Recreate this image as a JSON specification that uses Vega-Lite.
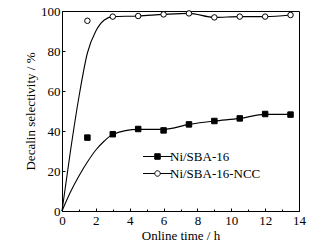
{
  "$schema": "https://vega.github.io/schema/vega-lite/v6.json",
  "width": 237,
  "height": 200,
  "autosize": "none",
  "padding": {"left": 62, "top": 11, "right": 29, "bottom": 38},
  "background": "white",
  "config": {
    "view": {"stroke": "black", "strokeWidth": 1},
    "font": "Liberation Serif",
    "axis": {
      "labelFont": "Liberation Serif",
      "titleFont": "Liberation Serif",
      "labelFontSize": 13,
      "titleFontSize": 13,
      "titleFontWeight": "normal",
      "labelColor": "black",
      "titleColor": "black",
      "domainColor": "black",
      "tickColor": "black",
      "grid": false
    },
    "legend": {
      "labelFont": "Liberation Serif",
      "labelFontSize": 13,
      "labelFontWeight": "normal",
      "labelColor": "black"
    }
  },
  "data": {
    "values": [
      {"series": "Ni/SBA-16", "kind": "point", "t": 1.5, "v": 36.7},
      {"series": "Ni/SBA-16", "kind": "point", "t": 3, "v": 38.4},
      {"series": "Ni/SBA-16", "kind": "point", "t": 4.5, "v": 41},
      {"series": "Ni/SBA-16", "kind": "point", "t": 6, "v": 40.3},
      {"series": "Ni/SBA-16", "kind": "point", "t": 7.5, "v": 43.3},
      {"series": "Ni/SBA-16", "kind": "point", "t": 9, "v": 45},
      {"series": "Ni/SBA-16", "kind": "point", "t": 10.5, "v": 46.3},
      {"series": "Ni/SBA-16", "kind": "point", "t": 12, "v": 48.5},
      {"series": "Ni/SBA-16", "kind": "point", "t": 13.5, "v": 48.2},
      {"series": "Ni/SBA-16-NCC", "kind": "point", "t": 1.5, "v": 95.1},
      {"series": "Ni/SBA-16-NCC", "kind": "point", "t": 3, "v": 97.2},
      {"series": "Ni/SBA-16-NCC", "kind": "point", "t": 4.5, "v": 97.5},
      {"series": "Ni/SBA-16-NCC", "kind": "point", "t": 6, "v": 98.3},
      {"series": "Ni/SBA-16-NCC", "kind": "point", "t": 7.5, "v": 98.8},
      {"series": "Ni/SBA-16-NCC", "kind": "point", "t": 9, "v": 96.8},
      {"series": "Ni/SBA-16-NCC", "kind": "point", "t": 10.5, "v": 97.2},
      {"series": "Ni/SBA-16-NCC", "kind": "point", "t": 12, "v": 97.2},
      {"series": "Ni/SBA-16-NCC", "kind": "point", "t": 13.5, "v": 98},
      {"series": "Ni/SBA-16", "kind": "curve", "t": 0, "v": 0},
      {"series": "Ni/SBA-16", "kind": "curve", "t": 0.5, "v": 9.5},
      {"series": "Ni/SBA-16", "kind": "curve", "t": 1, "v": 17.5},
      {"series": "Ni/SBA-16", "kind": "curve", "t": 1.5, "v": 24.5},
      {"series": "Ni/SBA-16", "kind": "curve", "t": 2, "v": 30.5},
      {"series": "Ni/SBA-16", "kind": "curve", "t": 2.5, "v": 35},
      {"series": "Ni/SBA-16", "kind": "curve", "t": 3, "v": 38.3},
      {"series": "Ni/SBA-16", "kind": "curve", "t": 4.5, "v": 40.8},
      {"series": "Ni/SBA-16", "kind": "curve", "t": 6, "v": 40.8},
      {"series": "Ni/SBA-16", "kind": "curve", "t": 7.5, "v": 43.3},
      {"series": "Ni/SBA-16", "kind": "curve", "t": 9, "v": 45},
      {"series": "Ni/SBA-16", "kind": "curve", "t": 10.5, "v": 46.3},
      {"series": "Ni/SBA-16", "kind": "curve", "t": 12, "v": 48.3},
      {"series": "Ni/SBA-16", "kind": "curve", "t": 13.5, "v": 48.3},
      {"series": "Ni/SBA-16-NCC", "kind": "curve", "t": 0, "v": 0},
      {"series": "Ni/SBA-16-NCC", "kind": "curve", "t": 0.5, "v": 30},
      {"series": "Ni/SBA-16-NCC", "kind": "curve", "t": 1, "v": 57},
      {"series": "Ni/SBA-16-NCC", "kind": "curve", "t": 1.5, "v": 79},
      {"series": "Ni/SBA-16-NCC", "kind": "curve", "t": 2, "v": 90},
      {"series": "Ni/SBA-16-NCC", "kind": "curve", "t": 2.5, "v": 95.5},
      {"series": "Ni/SBA-16-NCC", "kind": "curve", "t": 3, "v": 97.2},
      {"series": "Ni/SBA-16-NCC", "kind": "curve", "t": 4.5, "v": 97.5},
      {"series": "Ni/SBA-16-NCC", "kind": "curve", "t": 6, "v": 98.3},
      {"series": "Ni/SBA-16-NCC", "kind": "curve", "t": 7.5, "v": 98.8},
      {"series": "Ni/SBA-16-NCC", "kind": "curve", "t": 9, "v": 96.8},
      {"series": "Ni/SBA-16-NCC", "kind": "curve", "t": 10.5, "v": 97.2},
      {"series": "Ni/SBA-16-NCC", "kind": "curve", "t": 12, "v": 97.2},
      {"series": "Ni/SBA-16-NCC", "kind": "curve", "t": 13.5, "v": 98}
    ]
  },
  "encoding": {
    "x": {
      "field": "t",
      "type": "quantitative",
      "scale": {"domain": [0, 14], "nice": false, "zero": false},
      "axis": {
        "title": "Online time / h",
        "titleFontWeight": "normal",
        "values": [0, 1, 2, 3, 4, 5, 6, 7, 8, 9, 10, 11, 12, 13, 14],
        "labelExpr": "datum.value % 2 == 0 ? datum.label : ''",
        "tickSize": {"condition": {"test": "datum.value % 2 == 1", "value": -2}, "value": -3},
        "labelPadding": 6,
        "titlePadding": 2,
        "labelFlush": false
      }
    },
    "y": {
      "field": "v",
      "type": "quantitative",
      "scale": {"domain": [0, 100], "nice": false},
      "axis": {
        "title": "Decalin selectivity / %",
        "titleFontWeight": "normal",
        "values": [0, 20, 40, 60, 80, 100],
        "tickSize": -3,
        "labelPadding": 5,
        "titlePadding": 3,
        "labelFlush": false
      }
    }
  },
  "layer": [
    {
      "transform": [{"filter": "datum.kind == 'curve'"}],
      "mark": {"type": "line", "interpolate": "monotone", "color": "black", "strokeWidth": 1.1},
      "encoding": {"detail": {"field": "series"}}
    },
    {
      "transform": [{"filter": "datum.kind == 'point'"}],
      "mark": {"type": "point", "filled": false, "strokeWidth": 1, "opacity": 0, "size": 30},
      "encoding": {
        "shape": {
          "field": "series",
          "type": "nominal",
          "scale": {
            "domain": ["Ni/SBA-16", "Ni/SBA-16-NCC"],
            "range": ["M-5.3,0H-1M1,0H5.3M-1,-1H1V1H-1Z", "M-5.3,0H-1M1,0H5.3M-1,0A1,1,0,1,1,1,0A1,1,0,1,1,-1,0Z"]
          },
          "legend": {
            "title": null,
            "orient": "none",
            "legendX": 89,
            "legendY": 139,
            "padding": 0,
            "rowPadding": 3,
            "labelOffset": 6,
            "symbolSize": 30,
            "symbolOpacity": 1,
            "symbolStrokeWidth": 1,
            "labelFontWeight": "normal"
          }
        },
        "fill": {
          "field": "series",
          "type": "nominal",
          "scale": {"domain": ["Ni/SBA-16", "Ni/SBA-16-NCC"], "range": ["black", "white"]}
        },
        "stroke": {
          "field": "series",
          "type": "nominal",
          "scale": {"domain": ["Ni/SBA-16", "Ni/SBA-16-NCC"], "range": ["black", "black"]}
        }
      }
    },
    {
      "transform": [{"filter": "datum.kind == 'point' && datum.series == 'Ni/SBA-16'"}],
      "mark": {"type": "point", "shape": "square", "filled": true, "fill": "black", "stroke": "black", "strokeWidth": 1, "opacity": 1, "size": 30}
    },
    {
      "transform": [{"filter": "datum.kind == 'point' && datum.series == 'Ni/SBA-16-NCC'"}],
      "mark": {"type": "point", "shape": "circle", "filled": false, "fill": "white", "stroke": "black", "strokeWidth": 1, "opacity": 1, "size": 30}
    }
  ]
}
